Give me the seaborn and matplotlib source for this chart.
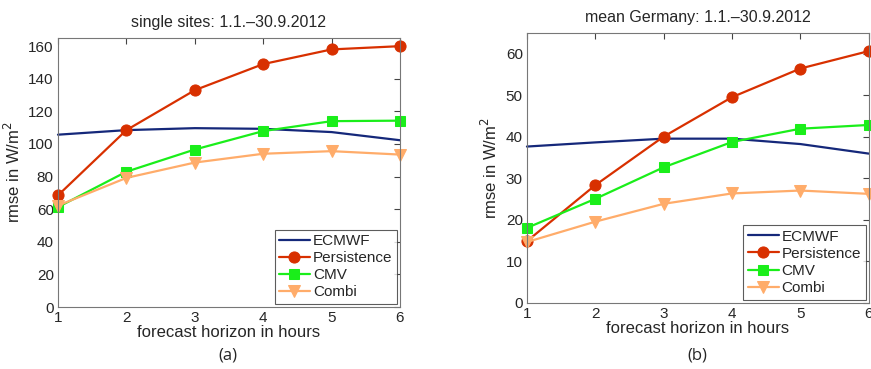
import numpy as np
import pandas as pd
import matplotlib
matplotlib.use("Agg")
import matplotlib.pyplot as plt
import seaborn as sns

sns.set_style("white")
plt.rcParams['font.family'] = ['Liberation Sans', 'DejaVu Sans']

# data
hours = [1, 2, 3, 4, 5, 6]
models = ["ECMWF", "Persistence", "CMV", "Combi"]

sites_ecmwf = [105.7, 108.5, 109.7, 109.3, 107.3, 102.3]
sites_persistence = [68.5, 108.5, 133.0, 149.0, 158.0, 160.0]
sites_cmv = [61.3, 83.0, 96.6, 107.9, 114.0, 114.3]
sites_combi = [62.2, 79.2, 88.6, 94.0, 95.6, 93.5]

germany_ecmwf = [37.6, 38.6, 39.5, 39.5, 38.2, 35.9]
germany_persistence = [14.8, 28.3, 40.0, 49.5, 56.4, 60.6]
germany_cmv = [18.0, 25.0, 32.6, 38.7, 41.9, 42.8]
germany_combi = [14.6, 19.5, 23.8, 26.3, 27.0, 26.2]

colors = {"ECMWF": "#15287a", "Persistence": "#d83000",
          "CMV": "#1aee1a", "Combi": "#ffac6a"}
markers = {"ECMWF": "", "Persistence": "o", "CMV": "s", "Combi": "v"}
msizes = {"ECMWF": 0, "Persistence": 8, "CMV": 7, "Combi": 9}


def make_df(vals):
    rows = []
    for m, v in zip(models, vals):
        for h, y in zip(hours, v):
            rows.append({"hour": h, "rmse": y, "model": m})
    return pd.DataFrame(rows)


def draw(ax, df, ylim, yticks, title):
    for m in models:
        sns.lineplot(data=df[df.model == m], x="hour", y="rmse", ax=ax,
                     color=colors[m], marker=markers[m] if markers[m] else None,
                     markersize=msizes[m], markeredgecolor=colors[m],
                     linewidth=1.6, label=m, clip_on=False)
    ax.set_xlim(1, 6)
    ax.set_ylim(*ylim)
    ax.set_xticks(hours)
    ax.set_yticks(yticks)
    ax.tick_params(direction="in", top=True, right=True, length=4,
                   labelsize=11, color="#444444", pad=3)
    for s in ax.spines.values():
        s.set_color("#777777")
        s.set_linewidth(0.8)
    ax.set_xlabel("forecast horizon in hours", fontsize=12, labelpad=0)
    ax.set_ylabel("rmse in W/m$^2$", fontsize=12, labelpad=4)
    ax.set_title(title, fontsize=11.5, pad=8)
    leg = ax.legend(loc="lower right", fontsize=11, frameon=True, fancybox=False,
                    handlelength=2.0, handletextpad=0.2, borderpad=0.3,
                    labelspacing=0.2, borderaxespad=0.2)
    leg.get_frame().set_edgecolor("#333333")
    leg.get_frame().set_linewidth(0.8)


fig = plt.figure(figsize=(8.71, 3.69), dpi=100)
ax1 = fig.add_axes([0.0666, 0.168, 0.3926, 0.729])
ax2 = fig.add_axes([0.605, 0.18, 0.3924, 0.731])

draw(ax1, make_df([sites_ecmwf, sites_persistence, sites_cmv, sites_combi]),
     (0, 165), np.arange(0, 161, 20), "single sites: 1.1.\u201330.9.2012")
draw(ax2, make_df([germany_ecmwf, germany_persistence, germany_cmv, germany_combi]),
     (0, 65), np.arange(0, 61, 10), "mean Germany: 1.1.\u201330.9.2012")

fig.text(0.262, 0.025, "(a)", ha="center", fontsize=12, family="Open Sans")
fig.text(0.801, 0.025, "(b)", ha="center", fontsize=12, family="Open Sans")

fig.savefig("out.png", dpi=100)
